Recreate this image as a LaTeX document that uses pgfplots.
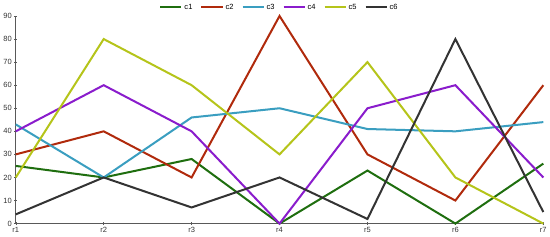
\documentclass[border=0pt]{standalone}
\usepackage{pgfplots}
\pgfplotsset{compat=1.18}
\usepackage{fontspec}
\setmainfont{Liberation Sans}
\definecolor{cA}{HTML}{1F6E0F}
\definecolor{cB}{HTML}{B02A0C}
\definecolor{cC}{HTML}{3A9EC0}
\definecolor{cD}{HTML}{8A1CCC}
\definecolor{cE}{HTML}{B5C41A}
\definecolor{cF}{HTML}{333333}
\begin{document}
\begin{tikzpicture}
\begin{axis}[
  scale only axis, width=526pt, height=207pt,
  xmin=0, xmax=6, ymin=0, ymax=90,
  axis x line=bottom, axis y line=left,
  axis line style={-, gray!70!black, line width=0.6pt},
  xtick={0,...,6}, xticklabels={r1,r2,r3,r4,r5,r6,r7},
  ytick={0,10,...,90},
  tick style={gray!70!black, line width=0.5pt},
  major tick length=3pt,
  tick label style={font=\fontsize{7.5}{8}\selectfont, text=black!80},
  /pgf/number format/assume math mode=true,
  xticklabel style={yshift=1pt},
  yticklabel style={xshift=1pt},
  legend style={at={(0.5,1.0)}, anchor=south, draw=none, fill=none,
    legend columns=-1, font=\fontsize{7.5}{8}\selectfont, yshift=1pt,
    /tikz/every even column/.append style={column sep=6pt}},
  legend image code/.code={\draw[#1, line width=2pt] (0pt,0pt) -- (21pt,0pt);},
  every axis plot/.append style={line width=2pt, mark=none},
  clip=false,
]
\addplot[cA] coordinates {(0,25)(1,20)(2,28)(3,0)(4,23)(5,0)(6,26)};
\addplot[cB] coordinates {(0,30)(1,40)(2,20)(3,90)(4,30)(5,10)(6,60)};
\addplot[cC] coordinates {(0,43)(1,20)(2,46)(3,50)(4,41)(5,40)(6,44)};
\addplot[cD] coordinates {(0,40)(1,60)(2,40)(3,0)(4,50)(5,60)(6,20)};
\addplot[cE] coordinates {(0,20)(1,80)(2,60)(3,30)(4,70)(5,20)(6,0)};
\addplot[cF] coordinates {(0,4)(1,20)(2,7)(3,20)(4,2)(5,80)(6,5)};
\legend{c1,c2,c3,c4,c5,c6}
\end{axis}
\end{tikzpicture}
\end{document}
